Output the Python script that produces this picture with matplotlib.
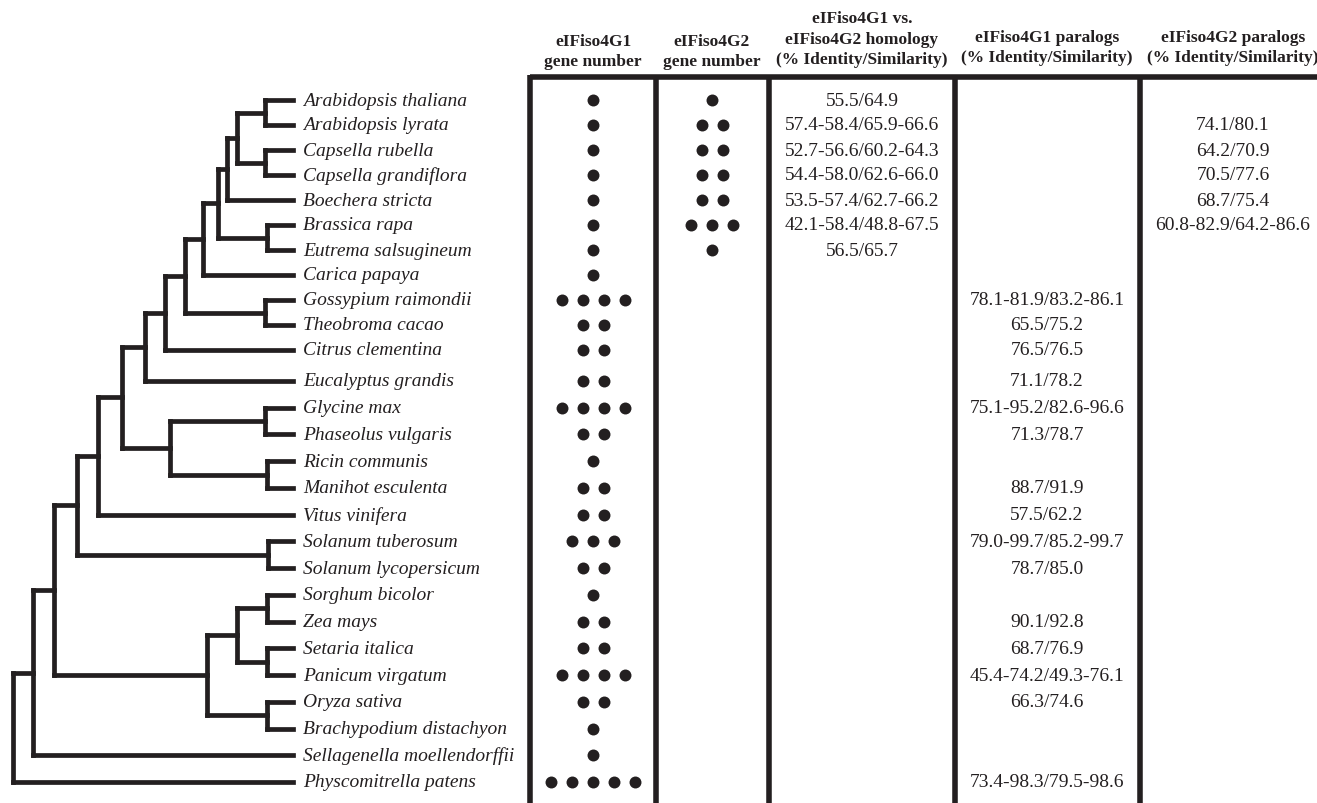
import numpy as np
import matplotlib.pyplot as plt

# species in tree order (top to bottom)
species = [
    "Arabidopsis thaliana", "Arabidopsis lyrata", "Capsella rubella",
    "Capsella grandiflora", "Boechera stricta", "Brassica rapa",
    "Eutrema salsugineum", "Carica papaya", "Gossypium raimondii",
    "Theobroma cacao", "Citrus clementina", "Eucalyptus grandis",
    "Glycine max", "Phaseolus vulgaris", "Ricin communis",
    "Manihot esculenta", "Vitus vinifera", "Solanum tuberosum",
    "Solanum lycopersicum", "Sorghum bicolor", "Zea mays",
    "Setaria italica", "Panicum virgatum", "Oryza sativa",
    "Brachypodium distachyon", "Sellagenella moellendorffii",
    "Physcomitrella patens",
]

# number of genes per species
g1_count = [1, 1, 1, 1, 1, 1, 1, 1, 4, 2, 2, 2, 4, 2, 1, 2, 2, 3, 2, 1, 2, 2, 4, 2, 1, 1, 5]
g2_count = [1, 2, 2, 2, 2, 3, 1, 0, 0, 0, 0, 0, 0, 0, 0, 0, 0, 0, 0, 0, 0, 0, 0, 0, 0, 0, 0]

homology = [
    "55.5/64.9", "57.4-58.4/65.9-66.6", "52.7-56.6/60.2-64.3",
    "54.4-58.0/62.6-66.0", "53.5-57.4/62.7-66.2", "42.1-58.4/48.8-67.5",
    "56.5/65.7",
] + [""] * 20

g1_paralogs = [""] * 8 + [
    "78.1-81.9/83.2-86.1", "65.5/75.2", "76.5/76.5", "71.1/78.2",
    "75.1-95.2/82.6-96.6", "71.3/78.7", "", "88.7/91.9", "57.5/62.2",
    "79.0-99.7/85.2-99.7", "78.7/85.0", "", "90.1/92.8", "68.7/76.9",
    "45.4-74.2/49.3-76.1", "66.3/74.6", "", "", "73.4-98.3/79.5-98.6",
]

g2_paralogs = ["", "74.1/80.1", "64.2/70.9", "70.5/77.6", "68.7/75.4",
               "60.8-82.9/64.2-86.6"] + [""] * 21

headers = [
    "eIFiso4G1\ngene number",
    "eIFiso4G2\ngene number",
    "eIFiso4G1 vs.\neIFiso4G2 homology\n(% Identity/Similarity)",
    "eIFiso4G1 paralogs\n(% Identity/Similarity)",
    "eIFiso4G2 paralogs\n(% Identity/Similarity)",
]

# cladogram: (node depth, upper child, lower child), leaves are species names
tree = (13,
        (33,
         (54,
          (77,
           (98,
            (122,
             (145,
              (165,
               (185,
                (203,
                 (218,
                  (227,
                   (237,
                    (265, "Arabidopsis thaliana", "Arabidopsis lyrata"),
                    (265, "Capsella rubella", "Capsella grandiflora")),
                   "Boechera stricta"),
                  (267, "Brassica rapa", "Eutrema salsugineum")),
                 "Carica papaya"),
                (265, "Gossypium raimondii", "Theobroma cacao")),
               "Citrus clementina"),
              "Eucalyptus grandis"),
             (170,
              (265, "Glycine max", "Phaseolus vulgaris"),
              (267, "Ricin communis", "Manihot esculenta"))),
            "Vitus vinifera"),
           (268, "Solanum tuberosum", "Solanum lycopersicum")),
          (207,
           (237,
            (267, "Sorghum bicolor", "Zea mays"),
            (267, "Setaria italica", "Panicum virgatum")),
           (267, "Oryza sativa", "Brachypodium distachyon"))),
         "Sellagenella moellendorffii"),
        "Physcomitrella patens")

ink = "#231f20"
serif = "Liberation Serif"

fig = plt.figure(figsize=(13.17, 8.04), dpi=100)
ax = fig.add_axes([0, 0, 1, 1])
ax.set_xlim(0, 1317)
ax.set_ylim(804, 0)
ax.axis("off")

# rows are a bit tighter in the brassicales block than further down
row_y = np.r_[np.linspace(101, 351, 11), np.linspace(382, 783, 16)]
tip_x = 293


def draw(node):
    # returns (x, y) of the node
    if isinstance(node, str):
        return tip_x, row_y[species.index(node)]
    x, a, b = node
    pts = [draw(a), draw(b)]
    for cx, cy in pts:
        ax.plot([x, cx], [cy, cy], color=ink, lw=3.4, solid_capstyle="projecting")
    ax.plot([x, x], [pts[0][1], pts[1][1]], color=ink, lw=3.4, solid_capstyle="projecting")
    return x, (pts[0][1] + pts[1][1]) / 2


draw(tree)

for name, y in zip(species, row_y):
    ax.text(303, y, name, fontsize=14, style="italic", family=serif,
            color=ink, va="center", ha="left")

# table frame
col_edges = [530, 656, 769, 955, 1140]
col_centers = [593, 712, 862, 1047, 1233]
top_y = 78
ax.plot([col_edges[0], 1317], [top_y, top_y], color=ink, lw=4, solid_capstyle="butt")
for xe in col_edges:
    ax.plot([xe, xe], [top_y - 2, 804], color=ink, lw=4, solid_capstyle="butt")

header_bottom = [62, 62, 60, 58, 58]
for xc, h, yb in zip(col_centers, headers, header_bottom):
    lines = h.split("\n")
    for k, line in enumerate(lines):
        ax.text(xc, yb - (len(lines) - 1 - k) * 20.5, line, fontsize=12.5,
                weight="bold", family=serif, color=ink, ha="center", va="center")

# gene number dots
for counts, xc in [(g1_count, col_centers[0]), (g2_count, col_centers[1])]:
    for n, y in zip(counts, row_y):
        if n == 0:
            continue
        xs = xc + (np.arange(n) - (n - 1) / 2) * 21
        ax.plot(xs, [y] * n, "o", color=ink, ms=8.6, mew=0)

# identity / similarity values
for values, xc in [(homology, col_centers[2]), (g1_paralogs, col_centers[3]),
                   (g2_paralogs, col_centers[4])]:
    for v, y in zip(values, row_y):
        if v:
            ax.text(xc, y, v, fontsize=14, family=serif, color=ink,
                    ha="center", va="center")

fig.savefig("out.png", dpi=100)
